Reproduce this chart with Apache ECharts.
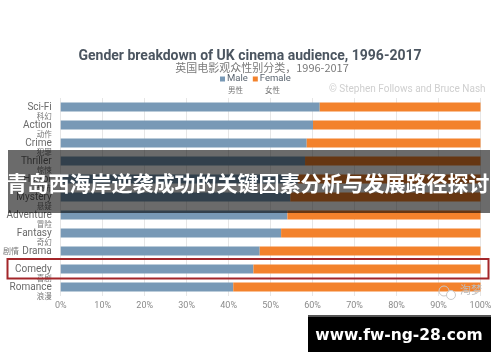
<!DOCTYPE html>
<html>
<head>
<meta charset="utf-8">
<script src="https://cdn.jsdelivr.net/npm/echarts@6/dist/echarts.min.js"></script>
<style>
html,body{margin:0;padding:0;background:#fff;}
#c{width:500px;height:362px;}
</style>
</head>
<body>
<div id="c"></div>
<script>
// ---- data ----
var categories = ['Sci-Fi','Action','Crime','Thriller','Horror','Mystery','Adventure','Fantasy','Drama','Comedy','Romance'];
var categoriesZh = ['科幻','动作','犯罪','惊悚','恐怖','悬疑','冒险','奇幻','剧情','喜剧','浪漫'];
var maleShare = [61.7, 60.1, 58.6, 58.2, 56.5, 54.7, 54.0, 52.5, 47.4, 45.9, 41.1];
var femaleShare = [38.3, 39.9, 41.4, 41.8, 43.5, 45.3, 46.0, 47.5, 52.6, 54.1, 58.9];
var xTicks = ['0%','10%','20%','30%','40%','50%','60%','70%','80%','90%','100%'];

var zhMap = {};
categories.forEach(function(c,i){ zhMap[c] = categoriesZh[i]; });

var chart = echarts.init(document.getElementById('c'));
var MALE = '#7899b6', FEMALE = '#f3822c';
chart.setOption({
  animation:false,
  backgroundColor:'#fff',
  title:[{
    text:'Gender breakdown of UK cinema audience, 1996-2017',
    left:'center', top:48, padding:0,
    textStyle:{fontFamily:'Roboto',fontWeight:'bold',fontSize:14,color:'#4b5560',lineHeight:16}
  },{
    text:'英国电影观众性别分类，1996-2017',
    left:262, top:62, padding:0, textAlign:'center',
    textStyle:{fontFamily:'Noto Sans CJK SC',fontWeight:'normal',fontSize:11,color:'#7a7a7a',lineHeight:12}
  }],
  legend:{
    data:['Male','Female'], top:74, left:220, icon:'rect',
    itemWidth:5,itemHeight:5,itemGap:5,padding:0,
    textStyle:{fontFamily:'Roboto',fontSize:9.5,color:'#5a6570',padding:[0,0,0,-3]}
  },
  grid:{left:57,right:19.5,top:98,bottom:66},
  xAxis:{
    type:'value',min:0,max:100,interval:10,
    axisLine:{show:false},axisTick:{show:false},
    splitLine:{lineStyle:{color:'#e6e6e6',width:1}},
    axisLabel:{margin:5,fontFamily:'Roboto',fontSize:9,color:'#8a8a8a',
      formatter:function(v){ return xTicks[Math.round(v/10)]; }}
  },
  yAxis:{
    type:'category',data:categories,inverse:true,
    axisLine:{show:false},axisTick:{show:false},splitLine:{show:false},
    axisLabel:{margin:9,align:'right',interval:0,hideOverlap:false,showMinLabel:true,showMaxLabel:true,
      formatter:function(v){
        if(v==='Drama') return '{zh2|'+zhMap[v]+'} {en|'+v+'}';
        return '{zh| }\n{en|'+v+'}\n{zh|'+zhMap[v]+'}';
      },
      rich:{
        en:{fontFamily:'Roboto',fontSize:10,color:'#6a6a6a',lineHeight:10,align:'right'},
        zh:{fontFamily:'Noto Sans CJK SC',fontSize:7.5,color:'#777',lineHeight:9,align:'right'},
        zh2:{fontFamily:'Noto Sans CJK SC',fontSize:8,color:'#777',lineHeight:10}
      }
    }
  },
  series:[
    {name:'Male',type:'bar',stack:'g',data:maleShare,barWidth:9,itemStyle:{color:MALE}},
    {name:'Female',type:'bar',stack:'g',data:femaleShare,barWidth:9,itemStyle:{color:FEMALE}}
  ],
  graphic:[
    {type:'text',z:50,left:228,top:86,style:{text:'男性',fontFamily:'Noto Sans CJK SC',fontSize:7.5,fill:'#777'}},
    {type:'text',z:50,left:265,top:86,style:{text:'女性',fontFamily:'Noto Sans CJK SC',fontSize:7.5,fill:'#777'}},
    {type:'text',z:50,left:329,top:84,style:{text:'© Stephen Follows and Bruce Nash',fontFamily:'Roboto',fontSize:10,fill:'#cfcfcf'}},
    // watermark icon + text
    {type:'circle',z:50,shape:{cx:444,cy:291,r:5},style:{fill:'none',stroke:'#c8c8c8',lineWidth:1}},
    {type:'circle',z:50,shape:{cx:451,cy:295,r:4.5},style:{fill:'#fff',stroke:'#c8c8c8',lineWidth:1}},
    {type:'text',z:50,left:460,top:284,style:{text:'淘梦',fontFamily:'Noto Sans CJK SC',fontSize:11,fill:'#bdbdbd'}},
    // red highlight box around Comedy
    {type:'rect',z:60,shape:{x:7.5,y:259,width:481,height:19.5},style:{fill:'none',stroke:'#a3262a',lineWidth:2}},
    // banner
    {type:'rect',z:70,shape:{x:8,y:150,width:482,height:63},style:{fill:'rgba(0,0,0,0.58)'}},
    {type:'text',z:71,x:248,y:183,style:{text:'青岛西海岸逆袭成功的关键因素分析与发展路径探讨',fontFamily:'Noto Sans CJK SC',fontWeight:'bold',fontSize:21,fill:'#fff',align:'center',verticalAlign:'middle'}},
    // black url box
    {type:'rect',z:70,shape:{x:308,y:315,width:183,height:2},style:{fill:'#555'}},
    {type:'rect',z:70,shape:{x:308,y:317,width:183,height:35},style:{fill:'#000'}},
    {type:'text',z:71,x:399,y:336,style:{text:'www.fw-ng-28.com',fontFamily:'DejaVu Sans',fontWeight:'bold',fontSize:15.5,fill:'#fff',align:'center',verticalAlign:'middle'}}
  ]
});
</script>
</body>
</html>
